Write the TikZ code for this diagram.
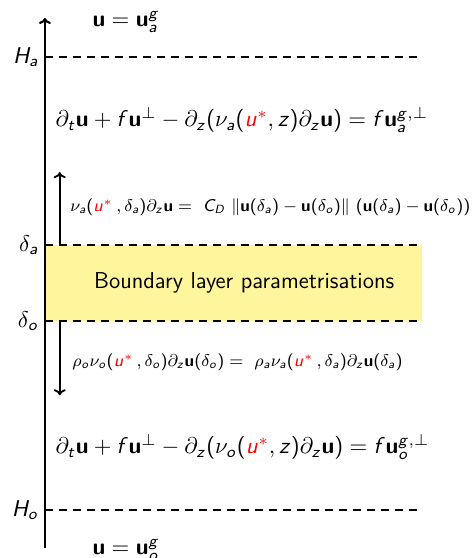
\RequirePackage{fix-cm}
\documentclass[tikz,border=0pt]{standalone}
\usepackage{amsmath}
\usetikzlibrary{arrows.meta, positioning}
% sans serif math letters, as on a slide
\DeclareSymbolFont{sfletters}{OT1}{cmss}{m}{sl}
\DeclareSymbolFont{sfupright}{OT1}{cmss}{m}{n}
\SetMathAlphabet{\mathbf}{normal}{OT1}{cmss}{bx}{n}
\DeclareMathSymbol{a}{\mathalpha}{sfletters}{`a}
\DeclareMathSymbol{f}{\mathalpha}{sfletters}{`f}
\DeclareMathSymbol{g}{\mathalpha}{sfletters}{`g}
\DeclareMathSymbol{o}{\mathalpha}{sfletters}{`o}
\DeclareMathSymbol{t}{\mathalpha}{sfletters}{`t}
\DeclareMathSymbol{u}{\mathalpha}{sfletters}{`u}
\DeclareMathSymbol{z}{\mathalpha}{sfletters}{`z}
\DeclareMathSymbol{C}{\mathalpha}{sfletters}{`C}
\DeclareMathSymbol{D}{\mathalpha}{sfletters}{`D}
\DeclareMathSymbol{H}{\mathalpha}{sfletters}{`H}
\DeclareMathSymbol{(}{\mathopen}{sfupright}{"28}
\DeclareMathSymbol{)}{\mathclose}{sfupright}{"29}
\DeclareMathSymbol{+}{\mathbin}{sfupright}{"2B}
\DeclareMathSymbol{=}{\mathrel}{sfupright}{"3D}
\definecolor{ink}{HTML}{000000}
\definecolor{blwash}{HTML}{FFF59D}
\definecolor{ustar}{HTML}{FF0000}
\newcommand{\us}{\textcolor{ustar}{u^*}}
\tikzset{
  font=\fontsize{11.4}{14}\selectfont,
  >={To[length=3pt, width=6pt]},
  %
  axis/.style={draw=ink, line width=1.1pt, ->},
  level/.style={draw=ink, line width=0.9pt, dash pattern=on 4pt off 3pt},
  flux/.style={draw=ink, line width=0.9pt, ->},
  blfill/.style={fill=blwash, draw=none},
  %
  sidelbl/.style={anchor=east, inner sep=2pt, text=ink, xshift=-1pt},
  eqn/.style={anchor=west, inner sep=0pt, text=ink},
  fluxeq/.style={eqn, font=\fontsize{8.5}{10.5}\selectfont},
  bltext/.style={font=\sffamily\fontsize{11.5}{14}\selectfont, text=ink},
}
\begin{document}
\begin{tikzpicture}[x=1cm, y=1cm]
  \useasboundingbox (0,0) rectangle (8.365,9.806);

  % levels
  \coordinate (ztop) at (0.79,9.49);
  \coordinate (zbot) at (0.79,0.17);
  \foreach \n/\y in {Ha/8.80, da/5.50, do/4.165, Ho/0.84} {
    \coordinate (\n L) at (0.79,\y);
    \coordinate (\n R) at (7.42,\y);
  }

  % the boundary layer
  \fill[blfill] (daL) rectangle (doR);
  \node[bltext] (bl) at (4.29,4.83) {Boundary layer parametrisations};

  \foreach \n in {Ha, da, do, Ho} { \draw[level] (\n L) -- (\n R); }
  \draw[axis] (zbot) -- (ztop);

  \node[sidelbl] (Halbl) at (HaL) {$H_a$};
  \node[sidelbl] (dalbl) at (daL) {$\delta_a$};
  \node[sidelbl] (dolbl) at (doL) {$\delta_o$};
  \node[sidelbl] (Holbl) at (HoL) {$H_o$};

  % atmosphere
  \node[eqn] (topbc) at (1.62,9.42) {$\mathbf{u} = \mathbf{u}_a^g$};
  \node[eqn] (atmeq) at (0.97,7.70)
    {$\partial_t \mathbf{u} + f\mathbf{u}^\perp - \partial_z(\nu_a(\us, z)\partial_z\mathbf{u})
      = f\mathbf{u}_a^{g,\perp}$};

  % fluxes through the layer
  \coordinate (upS) at (1.05,5.50);
  \coordinate (upE) at (1.05,6.78);
  \draw[flux] (upS) -- (upE);
  \node[fluxeq] (atmflux) at (1.23,6.17)
    {$\nu_a(\us\,, \delta_a)\partial_z\mathbf{u} =\ C_D\ \|\mathbf{u}(\delta_a) - \mathbf{u}(\delta_o)\|\
      (\mathbf{u}(\delta_a) - \mathbf{u}(\delta_o))$};

  \coordinate (dnS) at (1.05,4.165);
  \coordinate (dnE) at (1.05,2.86);
  \draw[flux] (dnS) -- (dnE);
  \node[fluxeq] (ocnflux) at (1.265,3.44)
    {$\rho_o\nu_o(\us\,, \delta_o)\partial_z\mathbf{u}(\delta_o) =\ \rho_a\nu_a(\us\,, \delta_a)\partial_z\mathbf{u}(\delta_a)$};

  % ocean
  \node[eqn] (ocneq) at (0.97,1.95)
    {$\partial_t \mathbf{u} + f\mathbf{u}^\perp - \partial_z(\nu_o(\us, z)\partial_z\mathbf{u})
      = f\mathbf{u}_o^{g,\perp}$};
  \node[eqn] (botbc) at (1.62,0.14) {$\mathbf{u} = \mathbf{u}_o^g$};

\end{tikzpicture}
\end{document}
